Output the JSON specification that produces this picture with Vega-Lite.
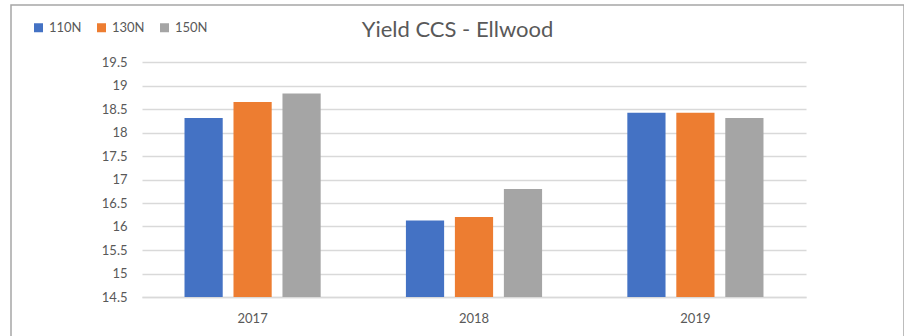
{
  "$schema": "https://vega.github.io/schema/vega-lite/v6.json",
  "width": 893,
  "height": 336,
  "autosize": {"type": "none"},
  "padding": {"left": 11, "top": 5, "right": 0, "bottom": 0},
  "background": "white",
  "title": {"text": "Yield CCS - Ellwood", "anchor": "middle", "frame": "group", "offset": -32, "dy": 22, "baseline": "alphabetic", "fontSize": 22, "font": "Lato", "fontWeight": "normal", "color": "#595959"},
  "data": {"values": [
    {"year": "2017", "treatment": "110N", "value": 18.31},
    {"year": "2017", "treatment": "130N", "value": 18.65},
    {"year": "2017", "treatment": "150N", "value": 18.83},
    {"year": "2018", "treatment": "110N", "value": 16.13},
    {"year": "2018", "treatment": "130N", "value": 16.2},
    {"year": "2018", "treatment": "150N", "value": 16.8},
    {"year": "2019", "treatment": "110N", "value": 18.42},
    {"year": "2019", "treatment": "130N", "value": 18.42},
    {"year": "2019", "treatment": "150N", "value": 18.31}
  ]},
  "mark": {"type": "bar"},
  "encoding": {
    "x": {"field": "year", "type": "nominal", "sort": null,
      "scale": {"range": [131, 795], "paddingInner": 0.385, "paddingOuter": 0.192},
      "axis": {"title": null, "orient": "bottom", "offset": -44, "domainColor": "#d9d9d9", "domainWidth": 1.5, "ticks": false, "labelPadding": 15, "labelFontSize": 13, "labelFont": "Lato", "labelColor": "#595959", "labelAngle": 0, "grid": false}},
    "xOffset": {"field": "treatment", "type": "nominal", "sort": null, "scale": {"paddingInner": 0.22, "paddingOuter": 0}},
    "y": {"field": "value", "type": "quantitative",
      "scale": {"domain": [14.5, 19.5], "range": [292, 57], "zero": false, "nice": false},
      "axis": {"title": null, "orient": "left", "offset": -131, "domain": false, "ticks": false, "grid": true, "gridColor": "#d9d9d9", "gridWidth": 1.5, "values": [14.5, 15, 15.5, 16, 16.5, 17, 17.5, 18, 18.5, 19, 19.5], "format": "~f", "labelPadding": 15, "labelFontSize": 13, "labelFont": "Lato", "labelColor": "#595959"}},
    "y2": {"datum": 14.5},
    "color": {"field": "treatment", "type": "nominal", "sort": null,
      "scale": {"domain": ["110N", "130N", "150N"], "range": ["#4472C4", "#ED7D31", "#A5A5A5"]},
      "legend": {"title": null, "orient": "none", "legendX": 21, "legendY": 16, "direction": "horizontal", "symbolType": "square", "symbolSize": 81, "symbolStrokeWidth": 0, "labelFontSize": 13, "labelFont": "Lato", "labelColor": "#595959", "labelOffset": 4, "columnPadding": 13}}
  },
  "config": {"view": {"stroke": "#a6a6a6", "strokeWidth": 1.5}}
}
